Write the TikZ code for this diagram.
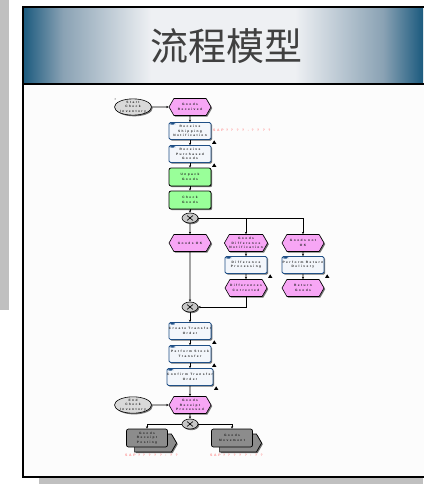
\documentclass[tikz,border=0pt]{standalone}
\usepackage{fontspec}
\setmainfont{Liberation Sans}
\newfontfamily\cjkf{Noto Sans CJK SC}
\newfontfamily\tinyf[LetterSpace=45]{Liberation Sans}
\newfontfamily\sapf[LetterSpace=50]{Liberation Sans}
\usetikzlibrary{shapes.symbols,shapes.geometric,shadows,arrows.meta}
\definecolor{tb}{HTML}{1B5A7E}
\definecolor{tbm}{HTML}{8AA2B4}
\definecolor{tw}{HTML}{EEF0F3}
\definecolor{evtc}{HTML}{F7A6F5}
\definecolor{fnc}{HTML}{F3F6FB}
\definecolor{fnb}{HTML}{1F4F86}
\definecolor{grn}{HTML}{99FF99}
\definecolor{sapc}{HTML}{FF8A8A}
\definecolor{shg}{HTML}{C0C0C0}
\pgfdeclarehorizontalshading{titleshade}{100bp}{color(0bp)=(tb); color(25bp)=(tb); color(30bp)=(tbm); color(41bp)=(tw); color(59bp)=(tw); color(70bp)=(tbm); color(75bp)=(tb); color(100bp)=(tb)}
\tikzset{
  lbl/.style={font=\tinyf\bfseries\fontsize{3.2}{4.3}\selectfont, align=center, text=black!85},
  shd/.style={drop shadow={shadow xshift=1.2pt, shadow yshift=-1.2pt, fill=black!55, opacity=1}},
  evt/.style={lbl, shape=signal, signal to=east and west, signal pointer angle=120, fill=evtc, draw=black, line width=0.6pt, minimum width=42pt, minimum height=17pt, inner sep=0pt, shd},
  fnbox/.style={lbl, rectangle, rounded corners=1.5pt, fill=fnc, draw=fnb, line width=0.8pt, minimum width=42pt, minimum height=17pt, inner sep=0pt, shd,
     path picture={\fill[fnb] ([xshift=1pt,yshift=-0.5pt]path picture bounding box.north west) rectangle ++(5pt,-1.6pt);}},
  grbox/.style={lbl, rectangle, rounded corners=2pt, fill=grn, draw=black, line width=0.8pt, minimum width=42pt, minimum height=18pt, inner sep=0pt, shd},
  xorc/.style={ellipse, fill=black!22, draw=black, line width=0.6pt, minimum width=16pt, minimum height=10pt, inner sep=0pt, shd,
     path picture={\draw[line width=0.6pt] ([xshift=-3pt,yshift=2.5pt]path picture bounding box.center) -- ++(6pt,-5pt) ([xshift=3pt,yshift=2.5pt]path picture bounding box.center) -- ++(-6pt,-5pt);}},
  trig/.style={lbl, ellipse, fill=black!15, draw=black, line width=0.6pt, minimum width=37pt, minimum height=14pt, inner sep=0pt, shd},
  pifront/.style={lbl, rectangle, rounded corners=2pt, fill=black!45, draw=black, line width=0.7pt, minimum width=41pt, minimum height=18pt, inner sep=0pt},
  piback/.style={shape=signal, signal to=east, signal pointer angle=120, fill=black!45, draw=black, line width=0.7pt, minimum width=42pt, minimum height=18pt, inner sep=0pt, shd},
  sap/.style={font=\sapf\bfseries\fontsize{3.4}{4}\selectfont, text=sapc, inner sep=0pt, anchor=west},
  conn/.style={line width=0.6pt, draw=black, -{Stealth[length=2.4pt,width=2.2pt]}},
  plain/.style={line width=0.6pt, draw=black}
}
\newcommand{\personicon}[1]{\fill ([xshift=0.6pt,yshift=-4pt]#1.south east) -- ++(2.2pt,3.6pt) -- ++(2.2pt,-3.6pt) -- cycle;}
\begin{document}
\begin{tikzpicture}[x=1pt,y=-1pt]
\useasboundingbox (0,0) rectangle (423,484);
\fill[white] (0,0) rectangle (423,484);
% left strip and bottom shadow
\fill[shg] (0,0) rectangle (9,310);
\fill[shg] (39,478) rectangle (423,484);
% frame
\fill[white!99!black] (23,7) rectangle (430,477);
\shade[shading=titleshade] (23,7) rectangle (423,84);
\draw[black!30, line width=2.4pt] (23,7) -- (430,7);
\draw[black, line width=1.4pt] (23,84) -- (430,84);
\draw[black, line width=1.4pt] (430,7) -- (23,7) -- (23,477) -- (430,477);
\node[font=\cjkf\fontsize{38}{40}\selectfont, text=black!75, inner sep=0pt] (title) at (226,46) {流程模型};
% nodes
\fill (115,99) circle (0.5pt);
\node[trig] (start) at (133,107) {Start\\Check\\Inventory};
\node[evt] (gr) at (190,107) {Goods\\Received};
\node[fnbox] (rsn) at (190,131) {Receive\\Shipping\\Notification};
\node[fnbox] (rpg) at (190,154) {Receive\\Purchased\\Goods};
\node[grbox] (unp) at (190,177) {Unpack\\Goods};
\node[grbox] (chk) at (190,200) {Check\\Goods};
\node[xorc] (x1) at (190,218) {};
\node[evt] (gok) at (190,243) {Goods OK};
\node[evt] (gdn) at (246,243) {Goods\\Difference\\Notification};
\node[evt] (gnok) at (303,243) {Goods not\\OK};
\node[fnbox] (dp) at (246,265) {Difference\\Processing};
\node[fnbox] (prd) at (303,265) {Perform Return\\Delivery};
\node[evt] (dc) at (246,288) {Differences\\Corrected};
\node[evt] (rg) at (303,288) {Return\\Goods};
\node[xorc] (x2) at (190,307) {};
\node[fnbox] (cto) at (190,331) {Create Transfer\\Order};
\node[fnbox] (pst) at (190,354) {Perform Stock\\Transfer};
\node[fnbox] (cfo) at (190,377) {Confirm Transfer\\Order};
\node[trig] (endn) at (133,405) {End\\Check\\Inventory};
\node[evt] (grp) at (190,405) {Goods\\Receipt\\Processed};
\node[xorc] (x3) at (190,424) {};
\node[piback] (grpostb) at (153,443) {};
\node[pifront] (grpost) at (147,438) {Goods\\Receipt\\Posting};
\node[piback] (gmovb) at (238,443) {};
\node[pifront] (gmov) at (232,438) {Goods\\Movement};
% person icons
\personicon{rsn}
\personicon{rpg}
\personicon{dp}
\personicon{prd}
\personicon{cto}
\personicon{pst}
\personicon{cfo}
% SAP labels
\node[sap] (sap1) at (213,130) {SAP ? ? ? ? - ? ? ? ?};
\node[sap] (sap2) at (125,455) {SAP ? ? ? ? ? : ? ?};
\node[sap] (sap3) at (210,455) {SAP ? ? ? ? ? : ? ?};
% connectors
\draw[conn] (start) -- (gr);
\draw[conn] (gr) -- (rsn);
\draw[conn] (rsn) -- (rpg);
\draw[conn] (rpg) -- (unp);
\draw[conn] (unp) -- (chk);
\draw[conn] (chk) -- (x1);
\draw[conn] (x1) -- (gok);
\draw[conn] (x1) -| (gdn);
\draw[conn] (x1) -| (gnok);
\draw[conn] (gdn) -- (dp);
\draw[conn] (dp) -- (dc);
\draw[conn] (gnok) -- (prd);
\draw[conn] (prd) -- (rg);
\draw[conn] (gok) -- (x2);
\draw[conn] (dc) |- (x2);
\draw[conn] (x2) -- (cto);
\draw[conn] (cto) -- (pst);
\draw[conn] (pst) -- (cfo);
\draw[conn] (cfo) -- (grp);
\draw[conn] (endn) -- (grp);
\draw[conn] (grp) -- (x3);
\draw[conn] (x3) -| (grpost);
\draw[conn] (x3) -| (gmov);
\end{tikzpicture}
\end{document}
